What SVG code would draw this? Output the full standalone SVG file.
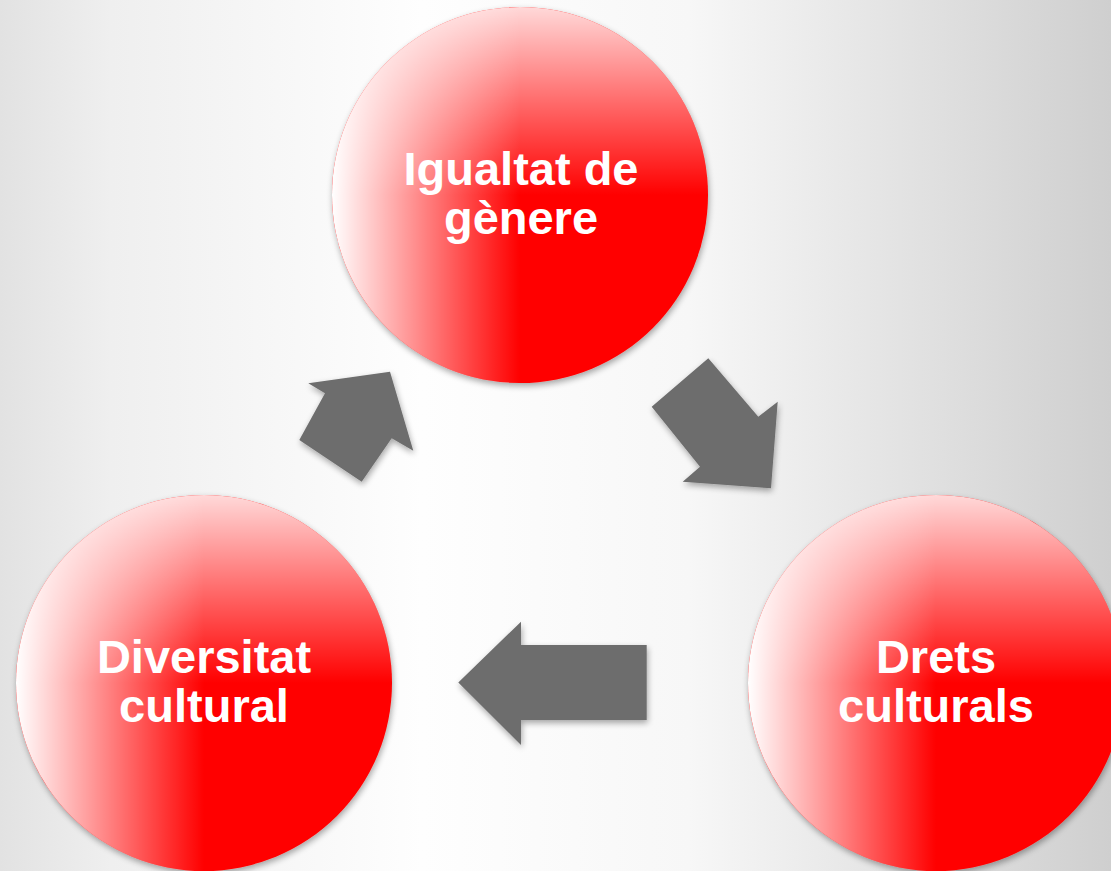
<svg xmlns="http://www.w3.org/2000/svg" width="1111" height="871" viewBox="0 0 1111 871">
<defs>
<linearGradient id="bg" x1="0" y1="0" x2="1" y2="0">
<stop offset="0" stop-color="#e2e2e2"/>
<stop offset="0.1" stop-color="#efefef"/>
<stop offset="0.38" stop-color="#fefefe"/>
<stop offset="0.62" stop-color="#f7f7f7"/>
<stop offset="1" stop-color="#cfcfcf"/>
</linearGradient>
<linearGradient id="hx" x1="0" y1="0" x2="1" y2="0">
<stop offset="0" stop-color="#ffffff" stop-opacity="1"/>
<stop offset="0.5" stop-color="#ffffff" stop-opacity="0"/>
</linearGradient>
<linearGradient id="vy" x1="0" y1="0" x2="0" y2="1">
<stop offset="0" stop-color="#ffffff" stop-opacity="0.85"/>
<stop offset="0.5" stop-color="#ffffff" stop-opacity="0"/>
</linearGradient>
<filter id="sh" x="-20%" y="-20%" width="140%" height="140%">
<feGaussianBlur in="SourceAlpha" stdDeviation="3"/>
<feOffset dx="1" dy="3" result="b"/>
<feComponentTransfer><feFuncA type="linear" slope="0.35"/></feComponentTransfer>
<feMerge><feMergeNode/><feMergeNode in="SourceGraphic"/></feMerge>
</filter>
</defs>
<style>
.base{fill:#ff0000}
.hx{fill:url(#hx)}
.vy{fill:url(#vy)}
.lbl{font-family:"Liberation Sans",Arial,sans-serif;font-weight:bold;font-size:47px;fill:#ffffff;text-anchor:middle}
.arr{fill:#6d6d6d}
</style>
<rect width="1111" height="871" fill="url(#bg)"/>
<g id="connectors" filter="url(#sh)">
<polygon class="arr" points="308.3,383.3 390,371.7 413.3,450.7 391.7,438.3 361.7,481.7 299.3,440 325,393.3"/>
<polygon class="arr" points="708.3,358.3 758.3,416.7 777.7,401.7 771,488.3 682.7,481.7 700,466.7 651.7,406.7"/>
<polygon class="arr" points="458.3,682.5 521,621.7 521,645 646.7,645 646.7,720 521,720 521,745"/>
</g>
<g id="node-igualtat">
<g filter="url(#sh)"><circle class="base" cx="520" cy="195" r="188"/></g>
<circle class="vy" cx="520" cy="195" r="188"/>
<circle class="hx" cx="520" cy="195" r="188"/>
<text class="lbl" x="521" y="185">Igualtat de</text>
<text class="lbl" x="521" y="234">gènere</text>
</g>
<g id="node-diversitat">
<g filter="url(#sh)"><circle class="base" cx="204" cy="683" r="188"/></g>
<circle class="vy" cx="204" cy="683" r="188"/>
<circle class="hx" cx="204" cy="683" r="188"/>
<text class="lbl" x="204" y="673">Diversitat</text>
<text class="lbl" x="204" y="722">cultural</text>
</g>
<g id="node-drets">
<g filter="url(#sh)"><circle class="base" cx="936" cy="683" r="188"/></g>
<circle class="vy" cx="936" cy="683" r="188"/>
<circle class="hx" cx="936" cy="683" r="188"/>
<text class="lbl" x="936" y="673">Drets</text>
<text class="lbl" x="936" y="722">culturals</text>
</g>
</svg>
